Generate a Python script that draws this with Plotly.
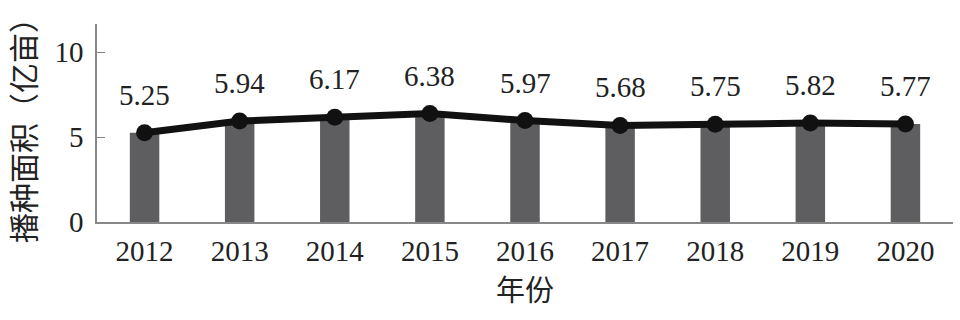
import plotly.graph_objects as go

years = ["2012", "2013", "2014", "2015", "2016", "2017", "2018", "2019", "2020"]
area = [5.25, 5.94, 6.17, 6.38, 5.97, 5.68, 5.75, 5.82, 5.77]
y_ticks = [0, 5, 10]

serif = "Liberation Serif, Times New Roman, serif"
cjk = "Noto Sans CJK SC"

fig = go.Figure()
fig.add_trace(go.Bar(x=years, y=area, width=0.31, marker=dict(color="#5e5e60", line=dict(width=0)),
                     hoverinfo="skip"))
fig.add_trace(go.Scatter(x=years, y=area, mode="lines+markers",
                         line=dict(color="#111111", width=7),
                         marker=dict(color="#111111", size=17)))
for i, v in enumerate(area):
    fig.add_annotation(x=i, y=v, xref="x", yref="y", text=f"{v:.2f}", showarrow=False, yshift=38,
                       font=dict(family=serif, size=29, color="#222222"))

fig.update_layout(
    width=960, height=320, margin=dict(l=97, r=7, t=24, b=98),
    paper_bgcolor="white", plot_bgcolor="white", showlegend=False,
    bargap=0.5,
)
fig.update_xaxes(type="category", range=[-0.5, 8.5], showline=True, linecolor="#888888", linewidth=1.5,
                 ticks="", showgrid=False, tickfont=dict(family=serif, size=29, color="#222222"),
                 ticklabelstandoff=2,
                 title=dict(text="年份", font=dict(family=cjk, size=29, color="#222222"), standoff=12))
fig.update_yaxes(range=[0, 11.65], showline=True, linecolor="#888888", linewidth=1.5,
                 tickvals=y_ticks, ticks="inside", ticklen=8, tickcolor="#888888",
                 showgrid=False, zeroline=False,
                 tickfont=dict(family=serif, size=29, color="#222222"), ticklabelstandoff=6,
                 title=dict(text="播种面积（亿亩）", font=dict(family=cjk, size=30, color="#222222"), standoff=10))
fig.write_html("out.html")
